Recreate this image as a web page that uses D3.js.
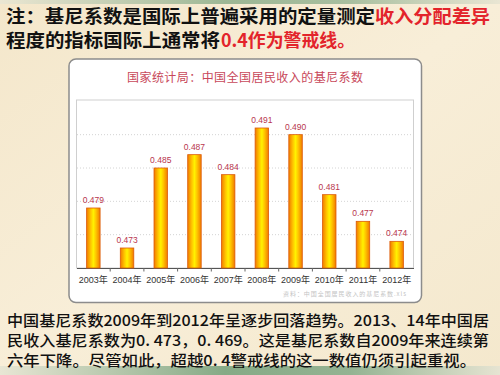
<!DOCTYPE html>
<html><head><meta charset="utf-8">
<script src="https://cdn.jsdelivr.net/npm/d3@7/dist/d3.min.js"></script>
<style>html,body{margin:0;padding:0;background:#f5ebd3;}svg{display:block;}</style>
</head><body>
<script>
const years = ["2003年","2004年","2005年","2006年","2007年","2008年","2009年","2010年","2011年","2012年"];
const gini = [0.479,0.473,0.485,0.487,0.484,0.491,0.490,0.481,0.477,0.474];
const valueLabels = ["0.479","0.473","0.485","0.487","0.484","0.491","0.490","0.481","0.477","0.474"];
const gridTicks = [0.475,0.48,0.485,0.49];
const chartTitle = "国家统计局：中国全国居民收入的基尼系数";
const sourceNote = "资料：中国全国居民收入的基尼系数.xls";
const headerParts = [
  {text:"注：基尼系数是国际上普遍采用的定量测定", color:"#111", line:0, x0:6, x1:375},
  {text:"收入分配差异", color:"#e3242b", line:0, x0:375, x1:490},
  {text:"程度的指标国际上通常将", color:"#111", line:1, x0:6, x1:220},
  {text:"0.4作为警戒线。", color:"#e3242b", line:1, x0:221, x1:355}
];
const bodyLines = ["中国基尼系数2009年到2012年呈逐步回落趋势。2013、14年中国居",
  "民收入基尼系数为0. 473，0. 469。这是基尼系数自2009年来连续第",
  "六年下降。尽管如此，超越0. 4警戒线的这一数值仍须引起重视。"];
const bodyWidths = [482, 482, 469];

const W=500,H=375;
const svg=d3.select("body").append("svg").attr("width",W).attr("height",H);
const defs=svg.append("defs");
const bg=defs.append("linearGradient").attr("id","bg").attr("x1",0).attr("x2",1).attr("y1",0).attr("y2",1);
bg.append("stop").attr("offset","0%").attr("stop-color","#f4e7cb");
bg.append("stop").attr("offset","50%").attr("stop-color","#f8eed8");
bg.append("stop").attr("offset","100%").attr("stop-color","#f4e8cd");
const gr=defs.append("linearGradient").attr("id","green").attr("x1",0).attr("x2",1);
gr.append("stop").attr("offset","0%").attr("stop-color","#e8e6d4");
gr.append("stop").attr("offset","45%").attr("stop-color","#86aa86");
gr.append("stop").attr("offset","70%").attr("stop-color","#94b392");
gr.append("stop").attr("offset","100%").attr("stop-color","#e6e4d2");
const bar=defs.append("linearGradient").attr("id","bar").attr("x1",0).attr("x2",1);
bar.append("stop").attr("offset","0%").attr("stop-color","#f07a00");
bar.append("stop").attr("offset","30%").attr("stop-color","#ffc400");
bar.append("stop").attr("offset","50%").attr("stop-color","#fff200");
bar.append("stop").attr("offset","70%").attr("stop-color","#ffc400");
bar.append("stop").attr("offset","100%").attr("stop-color","#f07a00");

svg.append("rect").attr("width",W).attr("height",H).attr("fill","url(#bg)");
svg.append("rect").attr("x",0).attr("y",0).attr("width",W).attr("height",4).attr("fill","url(#green)").attr("opacity",0.8);
svg.append("rect").attr("x",0).attr("y",366).attr("width",W).attr("height",9).attr("fill","url(#green)");

// header
svg.append("g").selectAll("text").data(headerParts).join("text")
  .attr("x",d=>d.x0).attr("y",d=>23+d.line*23.5)
  .attr("font-family","'Noto Sans CJK SC'").attr("font-size",18).attr("font-weight","bold")
  .attr("fill",d=>d.color).attr("textLength",d=>d.x1-d.x0).attr("lengthAdjust","spacingAndGlyphs")
  .text(d=>d.text);

// panel
svg.append("rect").attr("x",69).attr("y",59).attr("width",352.5).attr("height",243.5).attr("rx",7)
  .attr("fill","#ffffff").attr("stroke","#8c8c8c").attr("stroke-width",1.5);
svg.append("text").attr("x",127).attr("y",82)
  .attr("font-family","'Noto Sans CJK SC'").attr("font-size",12).attr("fill","#c8485a")
  .attr("textLength",236).attr("lengthAdjust","spacing").text(chartTitle);

const x=d3.scaleBand().domain(years).range([76.5,413.5]).paddingInner(0.6).paddingOuter(0.3);
const y=d3.scaleLinear().domain([0.47,0.4952]).range([268,100]);

svg.append("rect").attr("x",76.5).attr("y",100).attr("width",337).attr("height",168)
  .attr("fill","none").attr("stroke","#cfcfcf").attr("stroke-width",1);
svg.append("g").selectAll("line").data(gridTicks).join("line")
  .attr("x1",77).attr("x2",413).attr("y1",d=>y(d)).attr("y2",d=>y(d))
  .attr("stroke","#d4d4d4").attr("stroke-dasharray","1,2");

const xAxis=svg.append("g").attr("transform","translate(0,268)")
  .call(d3.axisBottom(x).tickSize(0).tickPadding(9));
xAxis.select(".domain").attr("stroke","#555").attr("stroke-width",1.2);
xAxis.selectAll("text").attr("font-family","'Liberation Sans','Noto Sans CJK SC'").attr("font-size",9).attr("fill","#333");
const step=x.step();
svg.append("g").selectAll("line").data(years.slice(1)).join("line")
  .attr("x1",d=>x(d)+x.bandwidth()/2-step/2).attr("x2",d=>x(d)+x.bandwidth()/2-step/2)
  .attr("y1",268).attr("y2",271.5).attr("stroke","#666");

svg.append("g").selectAll("rect").data(gini).join("rect")
  .attr("x",(d,i)=>x(years[i])).attr("width",x.bandwidth())
  .attr("y",d=>y(d)).attr("height",d=>268-y(d))
  .attr("fill","url(#bar)").attr("stroke","#dc5a08").attr("stroke-width",0.8);

svg.append("g").selectAll("text").data(gini).join("text")
  .attr("x",(d,i)=>x(years[i])+x.bandwidth()/2).attr("y",d=>y(d)-5)
  .attr("text-anchor","middle").attr("font-family","'Liberation Sans',sans-serif").attr("font-size",8.5)
  .attr("fill","#b8364e").text((d,i)=>valueLabels[i]);

svg.append("text").attr("x",283).attr("y",296)
  .attr("font-family","'Noto Sans CJK SC'").attr("font-size",6).attr("fill","#c4c4c4")
  .attr("textLength",123).attr("lengthAdjust","spacing").text(sourceNote);

// body text
svg.append("g").selectAll("text").data(bodyLines).join("text")
  .attr("x",7).attr("y",(d,i)=>326+i*20).attr("font-family","'Noto Sans CJK SC'")
  .attr("font-size",15).attr("fill","#111").attr("font-weight",500)
  .attr("textLength",(d,i)=>bodyWidths[i]).attr("lengthAdjust","spacingAndGlyphs").text(d=>d);
</script>
</body></html>
